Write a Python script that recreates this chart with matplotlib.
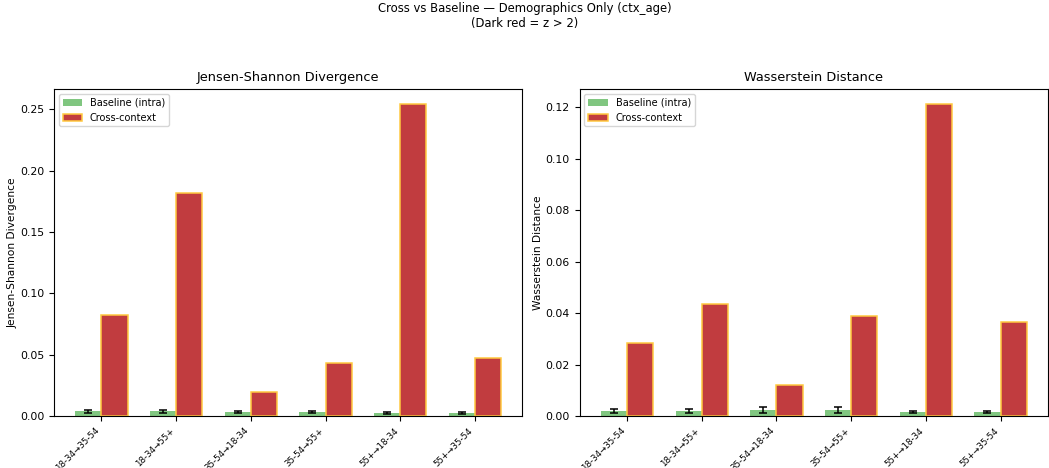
import numpy as np
import matplotlib
matplotlib.use("Agg")
import matplotlib.pyplot as plt

pairs = ["18-34→35-54", "18-34→55+", "35-54→18-34", "35-54→55+", "55+→18-34", "55+→35-54"]

jsd_base = [0.0040, 0.0040, 0.0032, 0.0032, 0.0022, 0.0022]
jsd_base_err = [0.0013, 0.0013, 0.0010, 0.0010, 0.0008, 0.0008]
jsd_cross = [0.082, 0.182, 0.020, 0.043, 0.254, 0.047]

wd_base = [0.0020, 0.0020, 0.0025, 0.0025, 0.0016, 0.0016]
wd_base_err = [0.0008, 0.0008, 0.0012, 0.0012, 0.0005, 0.0005]
wd_cross = [0.0285, 0.0437, 0.0122, 0.0388, 0.1210, 0.0365]

green = "tab:green"
red = "#c13c3f"
edge = "#ffc940"


def draw(ax, base, err, cross, title, ylabel):
    x = np.arange(len(pairs))
    w = 0.35
    ax.bar(x - w / 2, base, w, yerr=err, color=green, alpha=0.6, capsize=3,
           error_kw={"elinewidth": 1.1, "capthick": 1.1}, label="Baseline (intra)")
    ax.bar(x + w / 2, cross, w, color=red, edgecolor=edge, linewidth=1.1,
           label="Cross-context")
    ax.set_xticks(x)
    ax.set_xticklabels(pairs, rotation=45, ha="right", fontsize=6.2)
    ax.set_title(title, fontsize=9.3)
    ax.set_ylabel(ylabel, fontsize=7.7, labelpad=2)
    ax.tick_params(axis="y", labelsize=7.8)
    ax.legend(loc="upper left", fontsize=7.0)


fig, axes = plt.subplots(1, 2, figsize=(10.49, 4.68), dpi=100)
draw(axes[0], jsd_base, jsd_base_err, jsd_cross, "Jensen-Shannon Divergence", "Jensen-Shannon Divergence")
draw(axes[1], wd_base, wd_base_err, wd_cross, "Wasserstein Distance", "Wasserstein Distance")
fig.suptitle("Cross vs Baseline — Demographics Only (ctx_age)\n(Dark red = z > 2)", fontsize=8.4, y=0.995)
fig.subplots_adjust(left=0.0515, right=0.999, top=0.81, bottom=0.111, wspace=0.122)
fig.savefig("out.png")
